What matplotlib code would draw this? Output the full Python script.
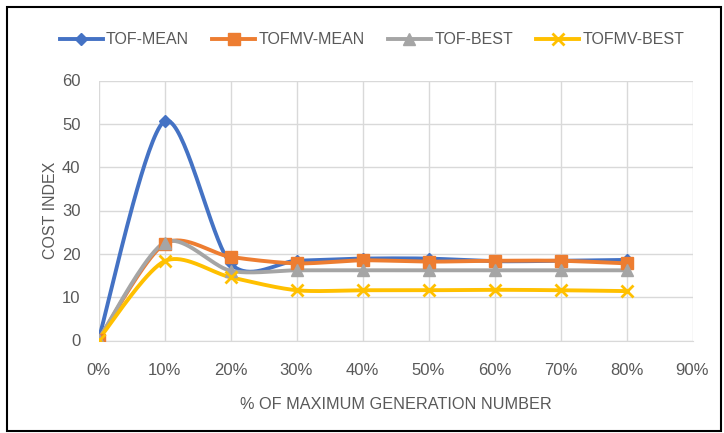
import numpy as np
import matplotlib
matplotlib.use("Agg")
import matplotlib.pyplot as plt
from matplotlib.patches import Rectangle
from matplotlib.lines import Line2D

categories = ["0%", "10%", "20%", "30%", "40%", "50%", "60%", "70%", "80%", "90%"]
tof_mean = [0.2, 50.6, 17.8, 18.4, 18.9, 18.9, 18.3, 18.4, 18.6]
tofmv_mean = [0.2, 22.3, 19.3, 17.8, 18.5, 18.2, 18.4, 18.4, 17.8]
tof_best = [0.2, 22.6, 16.1, 16.2, 16.2, 16.2, 16.2, 16.2, 16.2]
tofmv_best = [0.2, 18.3, 14.6, 11.6, 11.6, 11.6, 11.7, 11.6, 11.4]

series = [
    ("TOF-MEAN", tof_mean, "#4472C4", "D", 6),
    ("TOFMV-MEAN", tofmv_mean, "#ED7D31", "s", 8),
    ("TOF-BEST", tof_best, "#A5A5A5", "^", 8),
    ("TOFMV-BEST", tofmv_best, "#FFC000", "x", 8),
]

plt.rcParams["font.family"] = ["Liberation Sans", "DejaVu Sans"]

W, H = 724, 433
fig = plt.figure(figsize=(W / 100, H / 100), dpi=100)
left, right, top, bottom = 98.5, 692.5, 80.5, 340.5
ax = fig.add_axes([left / W, 1 - bottom / H, (right - left) / W, (bottom - top) / H])

# frame around the whole chart
fig.patches.append(Rectangle((7 / W, 1 - 431 / H), 714 / W, 424 / H, transform=fig.transFigure,
                             fill=False, edgecolor="black", linewidth=1.5))

sx = (right - left) / 9.0
sy = (bottom - top) / 60.0


def smooth(ys, n=40, k=7.0):
    # Excel-like smoothed line: Catmull-Rom style cubic Bezier in pixel space
    p = np.array([[i * sx, y * sy] for i, y in enumerate(ys)])
    pts = []
    for i in range(len(p) - 1):
        p0 = p[i - 1] if i > 0 else p[i]
        p3 = p[i + 2] if i + 2 < len(p) else p[i + 1]
        c1 = p[i] + (p[i + 1] - p0) / k
        c2 = p[i + 1] - (p3 - p[i]) / k
        t = np.linspace(0, 1, n)[:, None]
        seg = ((1 - t) ** 3) * p[i] + 3 * ((1 - t) ** 2) * t * c1 + 3 * (1 - t) * t ** 2 * c2 + t ** 3 * p[i + 1]
        pts.append(seg)
    pts = np.vstack(pts)
    return pts[:, 0] / sx, pts[:, 1] / sy


handles = []
for name, vals, color, marker, ms in series:
    xs, ys = smooth(vals)
    ax.plot(xs, ys, color=color, linewidth=2.8, solid_capstyle="round", zorder=3)
    mew = 2 if marker == "x" else 1
    ax.plot(range(len(vals)), vals, linestyle="none", marker=marker, markersize=ms,
            color=color, markeredgewidth=mew, zorder=4)
    handles.append(Line2D([0], [0], color=color, linewidth=2.8, marker=marker,
                          markersize=ms, markeredgewidth=mew, label=name))

ax.set_xlim(0, 9)
ax.set_ylim(0, 60)
ax.set_xticks(range(len(categories)))
ax.set_xticklabels(categories)
ax.set_yticks(range(0, 61, 10))
ax.grid(True, color="#D9D9D9", linewidth=1)
ax.set_axisbelow(True)
for s in ["top", "right", "left"]:
    ax.spines[s].set_visible(False)
ax.spines["bottom"].set_color("#D9D9D9")
ax.tick_params(length=0, labelsize=12, labelcolor="#595959")
ax.tick_params(axis="x", pad=16)
ax.tick_params(axis="y", pad=13)
ax.set_xlabel("% OF MAXIMUM GENERATION NUMBER", fontsize=11.7, color="#595959", labelpad=14)
ax.set_ylabel("COST INDEX", fontsize=11.5, color="#595959", labelpad=3)

fig.legend(handles=handles, loc="center", bbox_to_anchor=(372 / W, 1 - 40 / H), ncol=4,
           frameon=False, fontsize=11.5, handlelength=2.7, columnspacing=1.45,
           handletextpad=0.2, labelcolor="#595959")

fig.savefig("out.png", dpi=100)
